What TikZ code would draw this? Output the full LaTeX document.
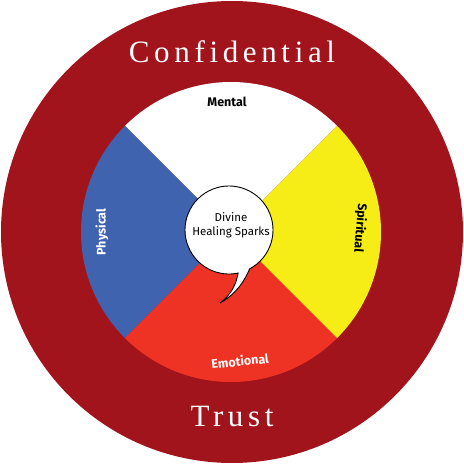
\documentclass[tikz,border=0pt]{standalone}
\usepackage{fontspec}
\setmainfont{Liberation Serif}
\setsansfont{Fira Sans}
\usetikzlibrary{calc}
\definecolor{ringred}{RGB}{161,20,28}
\definecolor{physblue}{RGB}{64,99,175}
\definecolor{spiryellow}{RGB}{246,237,22}
\definecolor{emored}{RGB}{238,50,36}
\tikzset{ring/.style={fill=ringred},
         bubble/.style={fill=white,draw=black,line width=0.9pt},
         ringtext/.style={text=white,font=\fontsize{31}{31}\selectfont\addfontfeatures{LetterSpace=15}},
         partlabel/.style={font=\sffamily\bfseries\fontsize{12.5}{14}\selectfont,inner sep=0pt},
         sparktext/.style={font=\sffamily\fontsize{11.5}{13.5}\selectfont,align=center,inner sep=0pt},
        }

\begin{document}
\begin{tikzpicture}[x=1pt,y=1pt]
        \useasboundingbox (0,0) rectangle (464,464);
        \coordinate (c) at (231,232);
        \coordinate (bc) at (229,234);

        \fill[ring] (232,232) circle (231);

        \fill[white] (c) -- ++(45:150) arc[start angle=45, end angle=135, radius=150] -- cycle;
        \fill[physblue] (c) -- ++(135:150) arc[start angle=135, end angle=225, radius=150] -- cycle;
        \fill[emored] (c) -- ++(225:150) arc[start angle=225, end angle=315, radius=150] -- cycle;
        \fill[spiryellow] (c) -- ++(315:150) arc[start angle=315, end angle=405, radius=150] -- cycle;

        \coordinate (tip) at (220,161);
        \filldraw[bubble] ($(bc)+(-62:44)$) arc[start angle=-62, end angle=282, radius=44]
            .. controls (236,180) and (232,170) .. (tip)
            .. controls (236,170) and (244,182) .. cycle;

        \node[ringtext](conf)at(232,412){Confidential};
        \node[ringtext](trust)at(232,47){Trust};

        \node[partlabel](mental)at(227,362){Mental};
        \node[partlabel, text=white, rotate=90](phys)at(102,232){Physical};
        \node[partlabel, rotate=-95](spir)at(360,236){Spiritual};
        \node[partlabel, text=white, rotate=6](emo)at(240,103){Emotional};

        \node[sparktext](spark)at(231,239){Divine\\Healing Sparks};
    \end{tikzpicture}
\end{document}
